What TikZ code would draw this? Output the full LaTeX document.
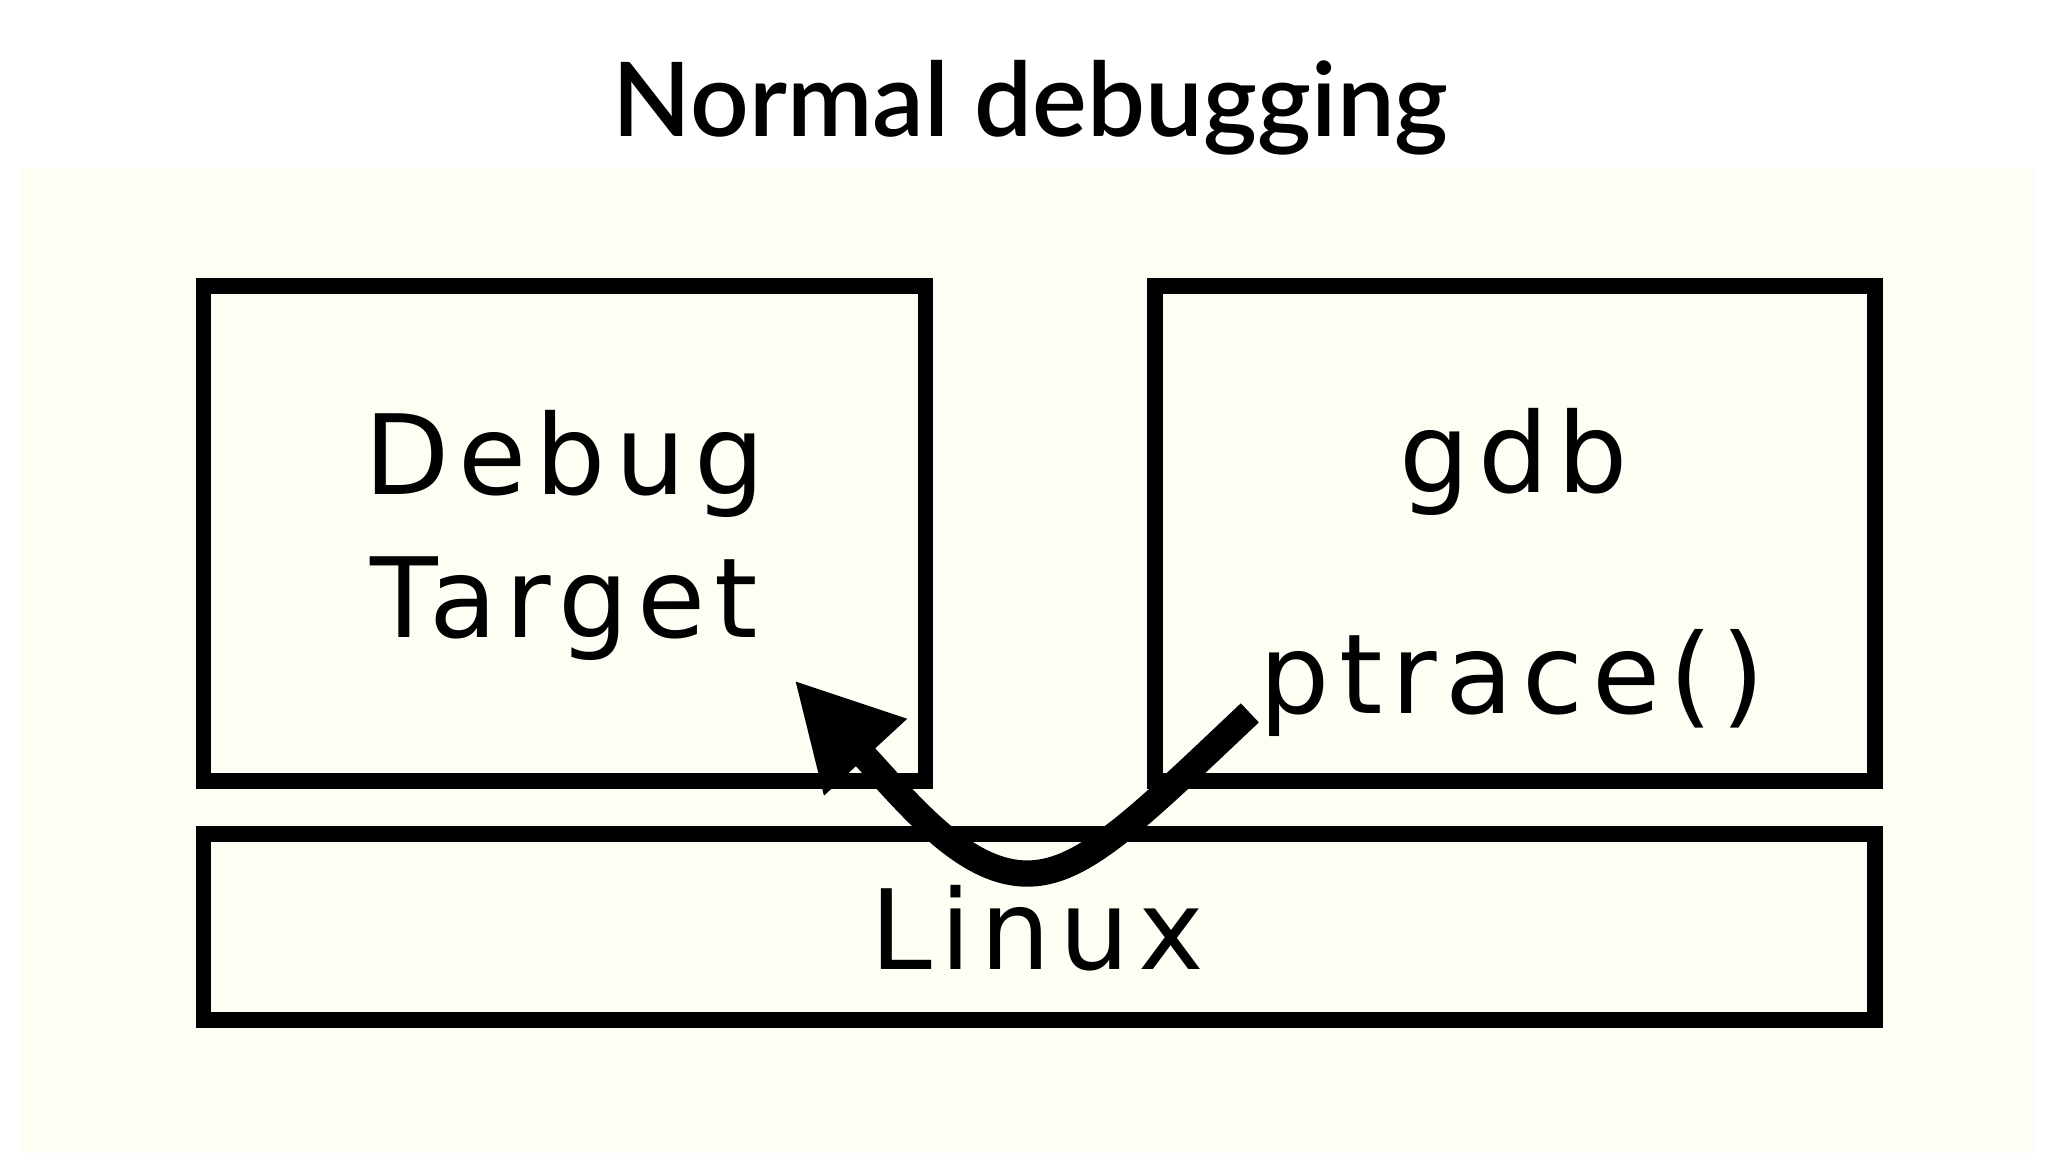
\documentclass[tikz,border=0pt]{standalone}
\usepackage{fontspec}
\setmainfont{Noto Sans}
\newfontfamily\titlefont{Lato}[UprightFont=* Semibold]
\newfontfamily\boxfont{DejaVu Sans}[LetterSpace=8]
\usetikzlibrary{arrows.meta}
\begin{document}
\begin{tikzpicture}[x=0.01cm,y=-0.01cm,
  box/.style={draw=black,line width=0.12cm},
  lbl/.style={font=\boxfont\fontsize{24}{31}\selectfont}]
\useasboundingbox (0,0) rectangle (1560,879);
\fill[white] (0,0) rectangle (1560,879);
\fill[yellow!4!white] (15,128) rectangle (1550,878);
\node[font=\titlefont\fontsize{22.3}{25}\selectfont] (title) at (785,82) {Normal debugging};
\draw[box] (155,218) rectangle (705,595);
\draw[box] (880,218) rectangle (1428,595);
\draw[box] (155,635) rectangle (1428,777);
\node[lbl,align=center] (dt) at (430,408) {Debug\\Target};
\node[lbl] (gdb) at (1153,352) {gdb};
\node[lbl] (pt) at (1152,520) {ptrace()};
\node[lbl] (lin) at (790,707) {Linux};
\coordinate (s) at (952,543);
\coordinate (e) at (605,518);
\draw[line width=0.2cm,-{Triangle[length=0.8cm,width=0.8cm]}] (s) .. controls (860,630) and (820,670) .. (775,665) .. controls (730,660) and (690,610) .. (e);
\end{tikzpicture}
\end{document}
